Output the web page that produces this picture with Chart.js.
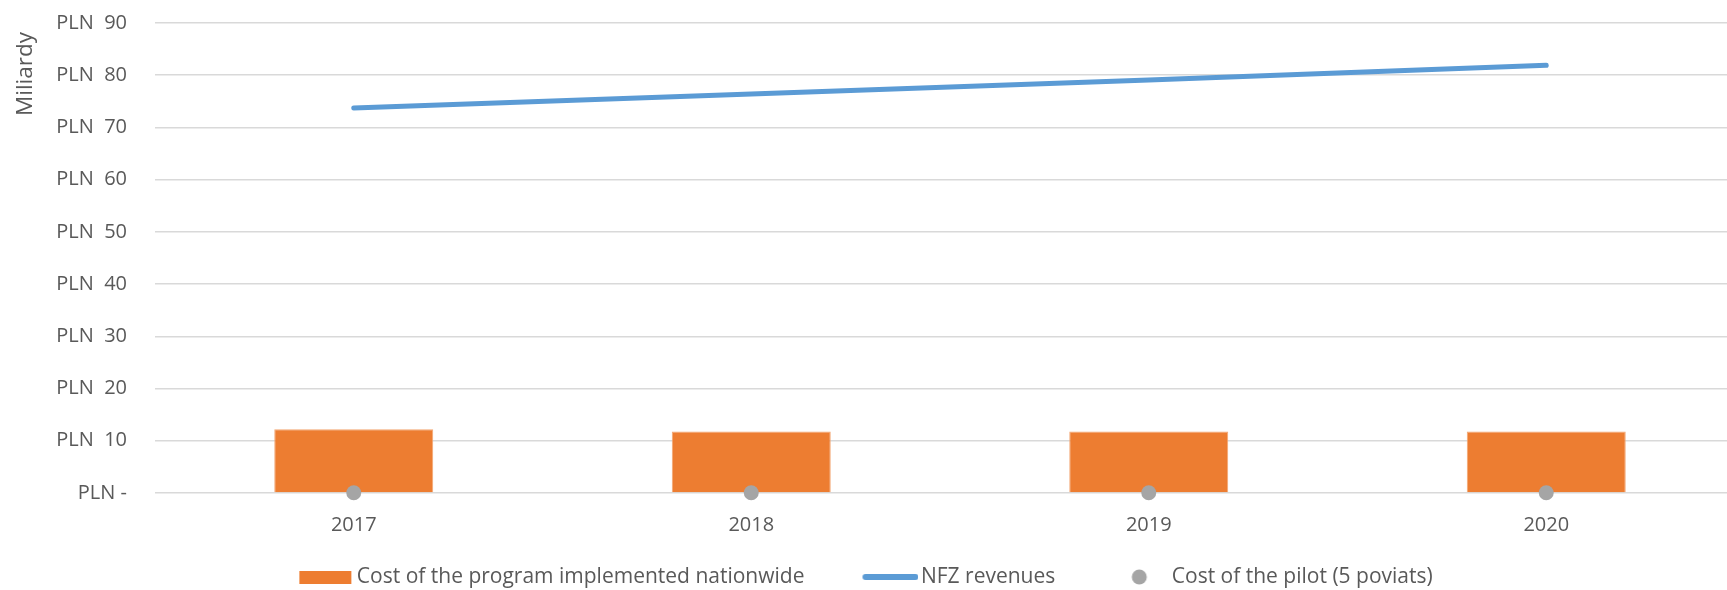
<!DOCTYPE html>
<html>
<head>
<meta charset="utf-8">
<script src="https://cdn.jsdelivr.net/npm/chart.js@4.4.0/dist/chart.umd.min.js"></script>
<style>
  html, body { margin: 0; padding: 0; background: #fff; overflow: hidden; }
  body { width: 1727px; height: 590px; position: relative; }
  /* the plot area runs past the right edge in the original, so the canvas is wider and shifted */
  #myChart { position: absolute; left: -62px; top: 0; }
</style>
</head>
<body>
<canvas id="myChart" width="1807" height="590"></canvas>
<script>
// data (billions of PLN)
const years = ['2017', '2018', '2019', '2020'];
const programCost = [12.2, 11.8, 11.8, 11.8];
const nfzRevenues = [73.7, 76.4, 79.1, 81.9];
const pilotCost = [0.05, 0.05, 0.05, 0.05];
const seriesNames = ['Cost of the program implemented nationwide', 'NFZ revenues', 'Cost of the pilot (5 poviats)'];
const yTitle = 'Miliardy';

const ORANGE = '#ED7D31';
const BLUE = '#5B9BD5';
const GREY = '#A5A5A5';
const TEXT = '#595959';

// little canvases used as legend markers (slot is 96 wide, marker sits at its right end)
function makeIcon(w, h, draw) {
  const c = document.createElement('canvas');
  c.width = w;
  c.height = h;
  draw(c.getContext('2d'));
  return c;
}
const legendIcons = [
  makeIcon(108, 13, g => { g.fillStyle = ORANGE; g.fillRect(55, 0, 52, 13); }),
  makeIcon(112, 8, g => {
    g.strokeStyle = BLUE; g.lineWidth = 6; g.lineCap = 'round';
    g.beginPath(); g.moveTo(59, 4); g.lineTo(109, 4); g.stroke();
  }),
  makeIcon(96, 16, g => {
    g.fillStyle = GREY;
    g.beginPath(); g.arc(74, 8, 7.5, 0, Math.PI * 2); g.fill();
  })
];

// excel puts the axis title near the top, a bit below the plot's top edge
const yTitlePlugin = {
  id: 'yTitle',
  afterDraw(chart) {
    const c = chart.ctx;
    c.save();
    c.translate(chart.scales.y.left + 88, chart.chartArea.top + 9);
    c.rotate(-Math.PI / 2);
    c.font = '22.5px "Open Sans"';
    c.fillStyle = TEXT;
    c.textAlign = 'right';
    c.textBaseline = 'middle';
    c.fillText(yTitle, 0, 0);
    c.restore();
  }
};

var ctx = document.getElementById('myChart');
var myChart = new Chart(ctx, {
  data: {
    labels: years,
    datasets: [{
      type: 'bar',
      label: seriesNames[0],
      data: programCost,
      backgroundColor: ORANGE,
      borderColor: '#F3A672',
      borderWidth: 1,
      categoryPercentage: 0.4,
      barPercentage: 1.0,
      order: 2
    }, {
      type: 'line',
      label: seriesNames[1],
      data: nfzRevenues,
      borderColor: BLUE,
      backgroundColor: BLUE,
      borderWidth: 5,
      borderCapStyle: 'round',
      pointRadius: 0,
      tension: 0,
      order: 1
    }, {
      type: 'line',
      label: seriesNames[2],
      data: pilotCost,
      showLine: false,
      pointRadius: 7.5,
      pointBackgroundColor: GREY,
      pointBorderWidth: 0,
      backgroundColor: GREY,
      clip: false,
      order: 0
    }]
  },
  plugins: [yTitlePlugin],
  options: {
    responsive: false,
    animation: false,
    layout: { autoPadding: false, padding: { left: 0, right: 0, top: 23, bottom: 0 } },
    plugins: {
      tooltip: { enabled: false },
      legend: {
        position: 'bottom',
        maxHeight: 33.5,
        labels: {
          usePointStyle: true,
          pointStyleWidth: 96,
          padding: 10,
          color: TEXT,
          font: { family: 'Open Sans', size: 21 },
          sort: (a, b) => a.datasetIndex - b.datasetIndex,
          generateLabels: function (chart) {
            const items = Chart.defaults.plugins.legend.labels.generateLabels(chart);
            items.forEach(item => { item.pointStyle = legendIcons[item.datasetIndex]; });
            return items;
          }
        }
      }
    },
    scales: {
      x: {
        grid: { display: false },
        border: { display: false },
        ticks: { color: TEXT, padding: 12.5, font: { family: 'Open Sans', size: 20 } },
        afterFit: function (scale) { scale.height = 63.5; }
      },
      y: {
        min: 0,
        max: 90,
        border: { display: false },
        grid: { color: '#D9D9D9', lineWidth: 1.5, drawTicks: false },
        ticks: {
          stepSize: 10,
          padding: 28,
          color: TEXT,
          font: { family: 'Open Sans', size: 20 },
          callback: v => v === 0 ? 'PLN -' : 'PLN  ' + v
        },
        afterFit: function (scale) {
          scale.width = 217;
          scale.paddingTop = 0;
          scale.paddingBottom = 0;
        }
      }
    }
  }
});
</script>
</body>
</html>
